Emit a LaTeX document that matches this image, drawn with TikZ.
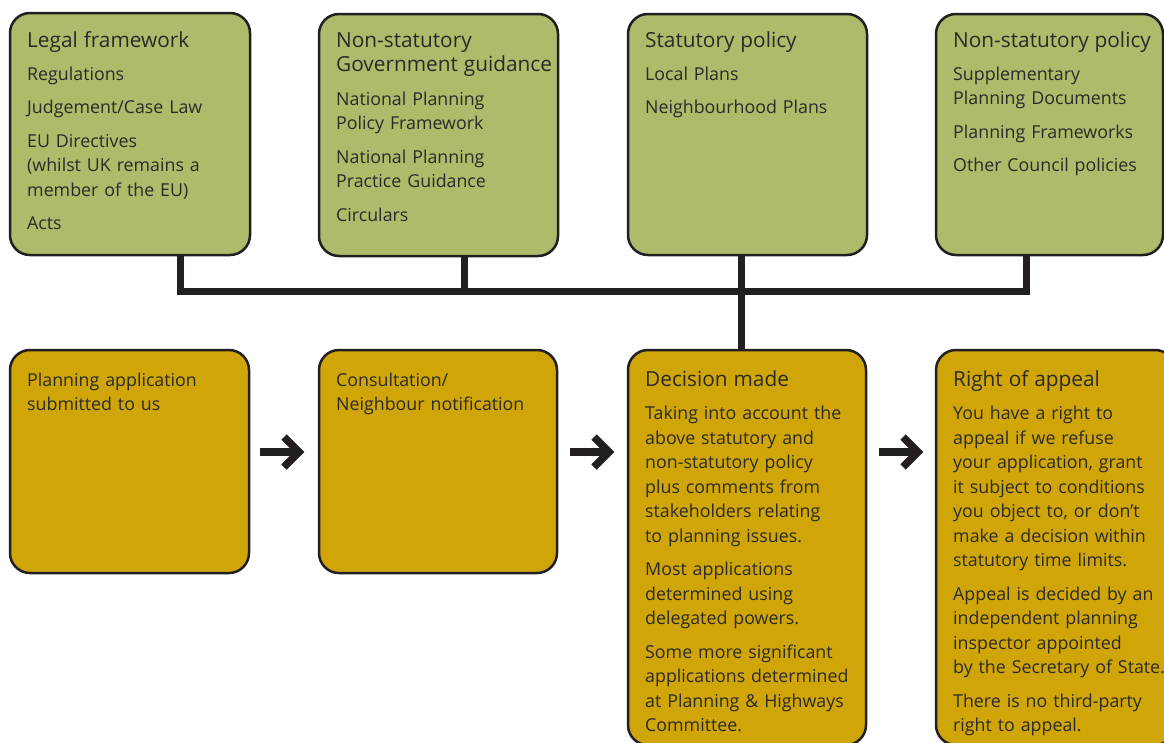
\documentclass[tikz,border=0pt]{standalone}
\usepackage{fontspec}
\setmainfont{Open Sans}
\usetikzlibrary{calc}
\definecolor{grn}{RGB}{173,187,106}
\definecolor{gld}{RGB}{208,165,8}
\definecolor{edge}{RGB}{35,31,32}
\definecolor{ink}{RGB}{43,42,41}
\begin{document}
\begin{tikzpicture}[x=1pt,y=-1pt,
  box/.style={draw=edge,line width=2.5pt,rounded corners=20pt,inner sep=0pt,outer sep=0pt},
  gbox/.style={box,fill=grn},
  ybox/.style={box,fill=gld},
  txt/.style={anchor=base west,text width=225pt,align=left,inner sep=0pt,text=ink,
    font=\fontsize{17.8}{24.5}\selectfont},
  bar/.style={draw=edge,line width=7pt},
  arr/.style={draw=edge,line width=7.5pt,miter limit=10}]
\useasboundingbox (0,0) rectangle (1164,742);
\clip (0,0) rectangle (1164,742);
\fill[white] (0,0) rectangle (1164,742);
\newcommand{\ttl}[1]{{\fontsize{20.8}{24.5}\selectfont #1}}
\newcommand{\gap}{\\[9pt]}
% connectors
\coordinate (j1) at (180,291);
\coordinate (j2) at (464,291);
\coordinate (j3) at (741,291);
\coordinate (j4) at (1026,291);
% boxes
\node[gbox,minimum width=240pt,minimum height=242pt] (b1) at (130,134) {};
\node[gbox,minimum width=239pt,minimum height=242pt] (b2) at (438.5,135) {};
\node[gbox,minimum width=239pt,minimum height=241pt] (b3) at (747.5,134.5) {};
\node[gbox,minimum width=227pt,minimum height=241pt] (b4) at (1049.5,134.5) {};
\node[ybox,minimum width=239pt,minimum height=223pt] (b5) at (129.5,461.5) {};
\node[ybox,minimum width=238pt,minimum height=223pt] (b6) at (438,461.5) {};
\node[ybox,minimum width=238pt,minimum height=395pt] (b7) at (747,547.5) {};
\node[ybox,minimum width=239pt,minimum height=395pt] (b8) at (1055.5,547.5) {};
\draw[bar] (b1.south -| j1) -- (j1);
\draw[bar] (b2.south -| j2) -- (j2);
\draw[bar] (b4.south -| j4) -- (j4);
\draw[bar,line cap=rect] (j1) -- (j4);
\draw[bar] (b3.south -| j3) -- (b7.north -| j3);
% arrows
\foreach \n/\x in {a1/260,a2/570,a3/879}{
  \coordinate (\n) at (\x,452);
  \draw[arr] (\n) -- ++(37,0);
  \draw[arr] ($(\n)+(24,-15)$) -- ++(15,15) -- ++(-15,15);
}
% texts
\node[txt] (t1) at (27,47) {\ttl{Legal framework}\\[8.5pt]Regulations\gap Judgement/Case Law\gap EU Directives\\(whilst UK remains a\\member of the EU)\gap Acts};
\node[txt] (t2) at (336,47) {\ttl{Non-statutory}\\\ttl{Government guidance}\\[9pt]National Planning\\Policy Framework\gap National Planning\\Practice Guidance\gap Circulars};
\node[txt] (t3) at (645,47) {\ttl{Statutory policy}\\[8.5pt]Local Plans\gap Neighbourhood Plans};
\node[txt] (t4) at (953,47) {\ttl{Non-statutory policy}\\[8.5pt]Supplementary\\Planning Documents\gap Planning Frameworks\gap Other Council policies};
\node[txt] (t5) at (27,386) {Planning application\\submitted to us};
\node[txt] (t6) at (336,386) {Consultation/\\Neighbour notification};
\node[txt] (t7) at (645,386) {\ttl{Decision made}\\[9pt]Taking into account the\\above statutory and\\non-statutory policy\\plus comments from\\stakeholders relating\\to planning issues.\gap Most applications\\determined using\\delegated powers.\gap Some more significant\\applications determined\\at Planning \& Highways\\Committee.};
\node[txt] (t8) at (953,386) {\ttl{Right of appeal}\\[9pt]You have a right to\\appeal if we refuse\\your application, grant\\it subject to conditions\\you object to, or don't\\make a decision within\\statutory time limits.\gap Appeal is decided by an\\independent planning\\inspector appointed\\by the Secretary of State.\gap There is no third-party\\right to appeal.};
\end{tikzpicture}
\end{document}
